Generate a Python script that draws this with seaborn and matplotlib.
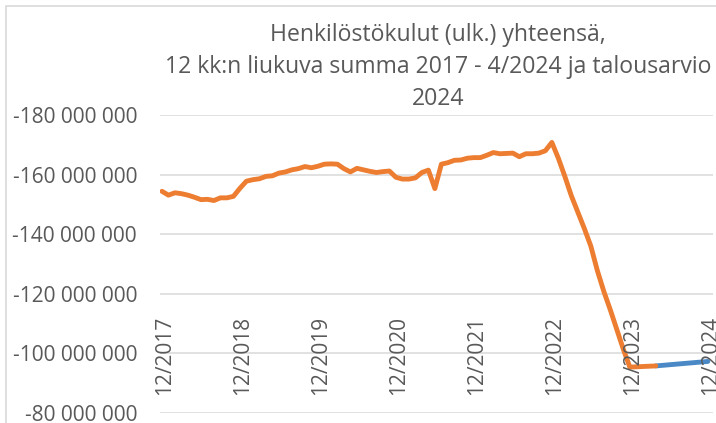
import matplotlib
matplotlib.use("Agg")
import matplotlib.pyplot as plt
import matplotlib.transforms as mtransforms
from matplotlib.patches import Rectangle
import numpy as np
import pandas as pd
import seaborn as sns

# ---- data (million euros, monthly rolling 12-month sum) ----
start_year, start_month = 2017, 12
n_months = 85  # 12/2017 .. 12/2024
months = []
y, m = start_year, start_month
for _ in range(n_months):
    months.append(f"{m}/{y}")
    m += 1
    if m > 12:
        m = 1
        y += 1

rolling_sum = [
    -154.4, -153.1, -153.9, -153.6, -153.1, -152.4, -151.6, -151.7, -151.3, -152.2,
    -152.2, -152.7, -155.4, -157.8, -158.3, -158.6, -159.4, -159.6, -160.5, -160.9,
    -161.6, -162.0, -162.7, -162.3, -162.8, -163.5, -163.6, -163.5, -162.0, -160.9,
    -162.1, -161.6, -161.1, -160.7, -161.0, -161.2, -159.1, -158.5, -158.5, -158.9,
    -160.7, -161.5, -155.3, -163.5, -164.0, -164.8, -164.9, -165.5, -165.7, -165.7,
    -166.5, -167.4, -167.0, -167.1, -167.2, -166.0, -167.0, -167.0, -167.2, -168.0,
    -170.8, -165.5, -159.4, -152.9, -147.4, -141.9, -136.0, -127.8, -120.8, -114.6,
    -108.0, -101.4, -95.4, -95.5, -95.6, -95.7, -95.8,
]
budget_months = ["4/2024", "12/2024"]
budget_values = [-95.8, -97.3]

tick_labels = ["12/2017", "12/2018", "12/2019", "12/2020",
               "12/2021", "12/2022", "12/2023", "12/2024"]
y_ticks = [-180, -160, -140, -120, -100, -80]

title_lines = ["Henkilöstökulut (ulk.) yhteensä,",
               "12 kk:n liukuva summa 2017 - 4/2024 ja talousarvio",
               "2024"]

# ---- build tables ----
pos = {lab: i for i, lab in enumerate(months)}
df_actual = pd.DataFrame({"x": [pos[mm] for mm in months[:len(rolling_sum)]],
                          "value": np.array(rolling_sum) * 1e6})
df_budget = pd.DataFrame({"x": [pos[mm] for mm in budget_months],
                          "value": np.array(budget_values) * 1e6})

# ---- style ----
sns.set_style("white")
plt.rcParams["font.family"] = ["Open Sans", "DejaVu Sans"]
text_color = "#595959"
grid_color = "#D9D9D9"

W, H = 716, 423
fig = plt.figure(figsize=(W / 100, H / 100), dpi=100)
ax_left, ax_right, ax_top, ax_bottom = 160, 713, 115, 413
ax = fig.add_axes([ax_left / W, (H - ax_bottom) / H,
                   (ax_right - ax_left) / W, (ax_bottom - ax_top) / H])

sns.lineplot(data=df_budget, x="x", y="value", ax=ax, color="#4A89C5",
             linewidth=3.5, solid_capstyle="round", solid_joinstyle="round")
sns.lineplot(data=df_actual, x="x", y="value", ax=ax, color="#ED7D31",
             linewidth=3.5, solid_capstyle="round", solid_joinstyle="round")

ax.set_xlim(-0.3, 84.8)
ax.set_ylim(-80e6, -180e6)
ax.set_yticks([v * 1e6 for v in y_ticks])
ax.set_yticklabels([f"{int(v * 1e6):,}".replace(",", " ") for v in y_ticks])
ax.tick_params(axis="y", length=0, pad=16.5, labelsize=15, labelcolor=text_color)
ax.set_xticks([])
ax.set_xlabel("")
ax.set_ylabel("")
ax.yaxis.grid(True, color=grid_color, linewidth=1.1)
ax.set_axisbelow(True)
for s in ax.spines.values():
    s.set_visible(False)

# category labels drawn inside the plot, rotated
trans = mtransforms.blended_transform_factory(ax.transData, ax.transAxes)
trans = trans + mtransforms.ScaledTranslation(2.5 / 100, 0, fig.dpi_scale_trans)
for lab in tick_labels:
    ax.text(pos[lab], (ax_bottom - 395) / (ax_bottom - ax_top), lab,
            transform=trans, rotation=90, ha="center", va="bottom",
            fontsize=15, color=text_color)

# title
for line, base in zip(title_lines, [41, 73, 105]):
    fig.text(438 / W, 1 - base / H, line, ha="center", va="baseline",
             fontsize=16.6, color=text_color)

# chart border (left and top visible)
fig.patches.append(Rectangle((6 / W, -0.2), 1.5, 1.2 - 6 / H,
                             transform=fig.transFigure, fill=False,
                             edgecolor=grid_color, linewidth=1.2))

fig.savefig("out.png", dpi=100, facecolor="white")
